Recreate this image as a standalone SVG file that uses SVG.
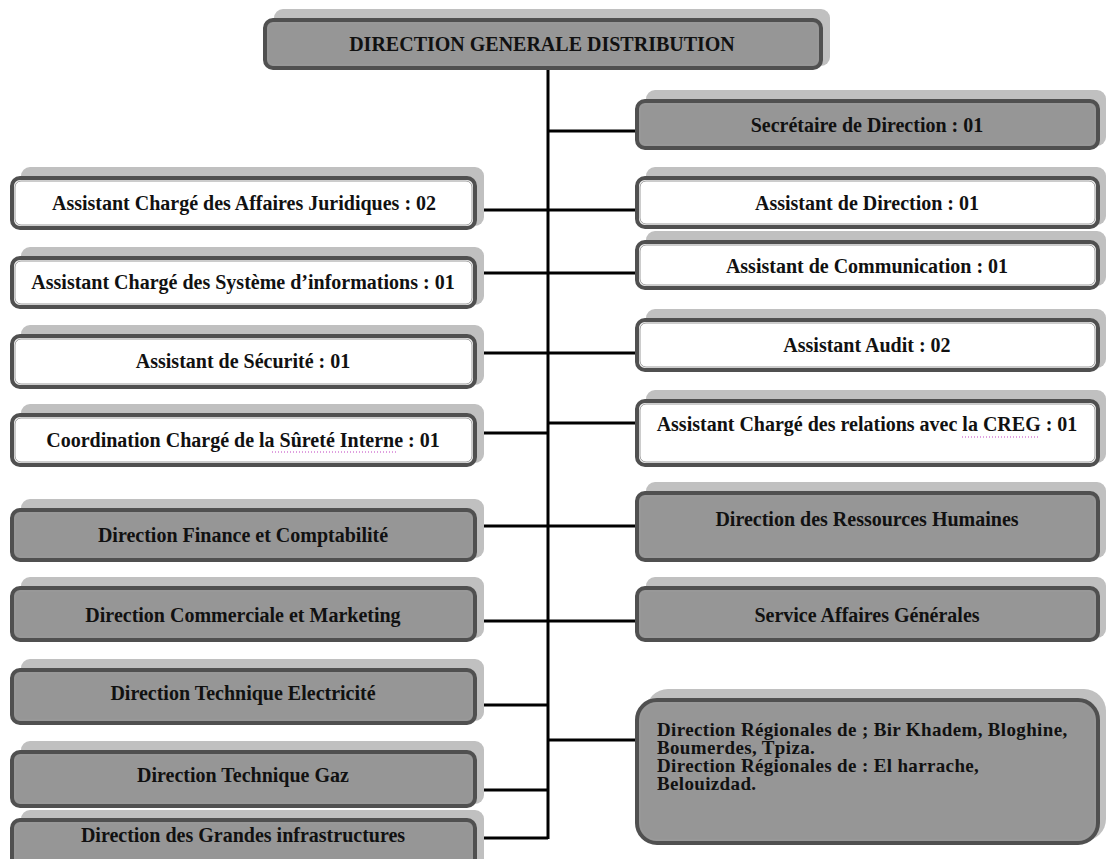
<svg xmlns="http://www.w3.org/2000/svg" width="1106" height="859" viewBox="0 0 1106 859">
<defs>
<style>
.sh{fill:#c0c0c0;stroke:none}
.bx{stroke:#505050;stroke-width:4}
.in{fill:none;stroke:#9a9a9a;stroke-width:1}
.g{fill:#969696}
.w{fill:#ffffff}
.t{font-family:"Liberation Serif","Times New Roman",serif;font-weight:bold;font-size:20px;fill:#111;text-anchor:middle}
.tl{font-family:"Liberation Serif","Times New Roman",serif;font-weight:bold;font-size:19px;letter-spacing:0.35px;fill:#111}
.c{stroke:#000;stroke-width:3;fill:none}
.sq{stroke:#c040c0;stroke-width:1;stroke-dasharray:1 2;fill:none}
</style>
</defs>
<rect width="1106" height="859" fill="#fff"/>

<g id="connectors">
<line class="c" x1="548" y1="68" x2="548" y2="839"/>
<line class="c" x1="548" y1="131" x2="637" y2="131"/>
<line class="c" x1="475" y1="210" x2="637" y2="210"/>
<line class="c" x1="475" y1="273" x2="637" y2="273"/>
<line class="c" x1="475" y1="353" x2="637" y2="353"/>
<line class="c" x1="475" y1="433" x2="548" y2="433"/>
<line class="c" x1="548" y1="423" x2="637" y2="423"/>
<line class="c" x1="475" y1="526" x2="637" y2="526"/>
<line class="c" x1="475" y1="621" x2="637" y2="621"/>
<line class="c" x1="475" y1="705" x2="548" y2="705"/>
<line class="c" x1="548" y1="740" x2="637" y2="740"/>
<line class="c" x1="475" y1="790" x2="548" y2="790"/>
<line class="c" x1="475" y1="838" x2="548" y2="838"/>
</g>

<g id="n-dgd">
<rect class="sh" x="274" y="9" width="556" height="57" rx="9"/>
<rect class="bx g" x="265" y="20" width="556" height="48" rx="8"/>
<rect class="in" x="268" y="23" width="550" height="42" rx="6"/>
<text class="t" x="542" y="51">DIRECTION GENERALE DISTRIBUTION</text>
</g>

<g id="n-secretaire">
<rect class="sh" x="646" y="90" width="460" height="56" rx="9"/>
<rect class="bx g" x="637" y="101" width="461" height="47" rx="8"/>
<rect class="in" x="640" y="104" width="455" height="41" rx="6"/>
<text class="t" x="867" y="132">Secrétaire de Direction : 01</text>
</g>

<g id="n-juridiques">
<rect class="sh" x="21" y="167" width="463" height="59" rx="9"/>
<rect class="bx w" x="12" y="178" width="463" height="50" rx="8"/>
<rect class="in" x="15" y="181" width="457" height="44" rx="6"/>
<text class="t" x="244" y="210">Assistant Chargé des Affaires Juridiques : 02</text>
</g>

<g id="n-asst-direction">
<rect class="sh" x="646" y="167" width="460" height="58" rx="9"/>
<rect class="bx w" x="637" y="178" width="461" height="49" rx="8"/>
<rect class="in" x="640" y="181" width="455" height="43" rx="6"/>
<text class="t" x="867" y="210">Assistant de Direction : 01</text>
</g>

<g id="n-systeme">
<rect class="sh" x="21" y="247" width="463" height="58" rx="9"/>
<rect class="bx w" x="12" y="258" width="463" height="49" rx="8"/>
<rect class="in" x="15" y="261" width="457" height="43" rx="6"/>
<text class="t" x="243" y="289">Assistant Chargé des Système d’informations : 01</text>
</g>

<g id="n-communication">
<rect class="sh" x="646" y="231" width="460" height="55" rx="9"/>
<rect class="bx w" x="637" y="242" width="461" height="46" rx="8"/>
<rect class="in" x="640" y="245" width="455" height="40" rx="6"/>
<text class="t" x="867" y="273">Assistant de Communication : 01</text>
</g>

<g id="n-securite">
<rect class="sh" x="21" y="325" width="463" height="60" rx="9"/>
<rect class="bx w" x="12" y="336" width="463" height="51" rx="8"/>
<rect class="in" x="15" y="339" width="457" height="45" rx="6"/>
<text class="t" x="243" y="368">Assistant de Sécurité : 01</text>
</g>

<g id="n-audit">
<rect class="sh" x="646" y="309" width="460" height="59" rx="9"/>
<rect class="bx w" x="637" y="320" width="461" height="50" rx="8"/>
<rect class="in" x="640" y="323" width="455" height="44" rx="6"/>
<text class="t" x="867" y="352">Assistant Audit : 02</text>
</g>

<g id="n-surete">
<rect class="sh" x="21" y="404" width="463" height="59" rx="9"/>
<rect class="bx w" x="12" y="415" width="463" height="50" rx="8"/>
<rect class="in" x="15" y="418" width="457" height="44" rx="6"/>
<text class="t" x="243" y="447">Coordination Chargé de la Sûreté Interne : 01</text>
<line class="sq" x1="272" y1="452" x2="398" y2="452"/>
</g>

<g id="n-creg">
<rect class="sh" x="646" y="390" width="460" height="73" rx="9"/>
<rect class="bx w" x="637" y="401" width="461" height="64" rx="8"/>
<rect class="in" x="640" y="404" width="455" height="58" rx="6"/>
<text class="t" x="867" y="431">Assistant Chargé des relations avec la CREG : 01</text>
<line class="sq" x1="962" y1="437" x2="1040" y2="437"/>
</g>

<g id="n-finance">
<rect class="sh" x="21" y="499" width="463" height="59" rx="9"/>
<rect class="bx g" x="12" y="510" width="463" height="50" rx="8"/>
<rect class="in" x="15" y="513" width="457" height="44" rx="6"/>
<text class="t" x="243" y="542">Direction Finance et Comptabilité</text>
</g>

<g id="n-rh">
<rect class="sh" x="646" y="482" width="460" height="76" rx="9"/>
<rect class="bx g" x="637" y="493" width="461" height="67" rx="8"/>
<rect class="in" x="640" y="496" width="455" height="61" rx="6"/>
<text class="t" x="867" y="526">Direction des Ressources Humaines</text>
</g>

<g id="n-commercial">
<rect class="sh" x="21" y="577" width="463" height="61" rx="9"/>
<rect class="bx g" x="12" y="588" width="463" height="52" rx="8"/>
<rect class="in" x="15" y="591" width="457" height="46" rx="6"/>
<text class="t" x="243" y="622">Direction Commerciale  et Marketing</text>
</g>

<g id="n-service">
<rect class="sh" x="646" y="577" width="460" height="61" rx="9"/>
<rect class="bx g" x="637" y="588" width="461" height="52" rx="8"/>
<rect class="in" x="640" y="591" width="455" height="46" rx="6"/>
<text class="t" x="867" y="622">Service Affaires  Générales</text>
</g>

<g id="n-electricite">
<rect class="sh" x="21" y="659" width="463" height="62" rx="9"/>
<rect class="bx g" x="12" y="670" width="463" height="53" rx="8"/>
<rect class="in" x="15" y="673" width="457" height="47" rx="6"/>
<text class="t" x="243" y="700">Direction Technique Electricité</text>
</g>

<g id="n-regionales">
<rect class="sh" x="646" y="689" width="460" height="152" rx="22"/>
<rect class="bx g" x="637" y="700" width="461" height="143" rx="20"/>
<rect class="in" x="640" y="703" width="455" height="137" rx="18"/>
<text class="tl" x="657" y="736">Direction Régionales de ; Bir Khadem, Bloghine,</text>
<text class="tl" x="657" y="754">Boumerdes, Tpiza.</text>
<text class="tl" x="657" y="772">Direction Régionales de : El harrache,</text>
<text class="tl" x="657" y="790">Belouizdad.</text>
</g>

<g id="n-gaz">
<rect class="sh" x="21" y="741" width="463" height="63" rx="9"/>
<rect class="bx g" x="12" y="752" width="463" height="54" rx="8"/>
<rect class="in" x="15" y="755" width="457" height="48" rx="6"/>
<text class="t" x="243" y="782">Direction Technique Gaz</text>
</g>

<g id="n-infrastructures">
<rect class="sh" x="21" y="810" width="463" height="59" rx="9"/>
<rect class="bx g" x="12" y="820" width="463" height="50" rx="8"/>
<rect class="in" x="15" y="823" width="457" height="44" rx="6"/>
<text class="t" x="243" y="842">Direction des Grandes infrastructures</text>
</g>
</svg>
